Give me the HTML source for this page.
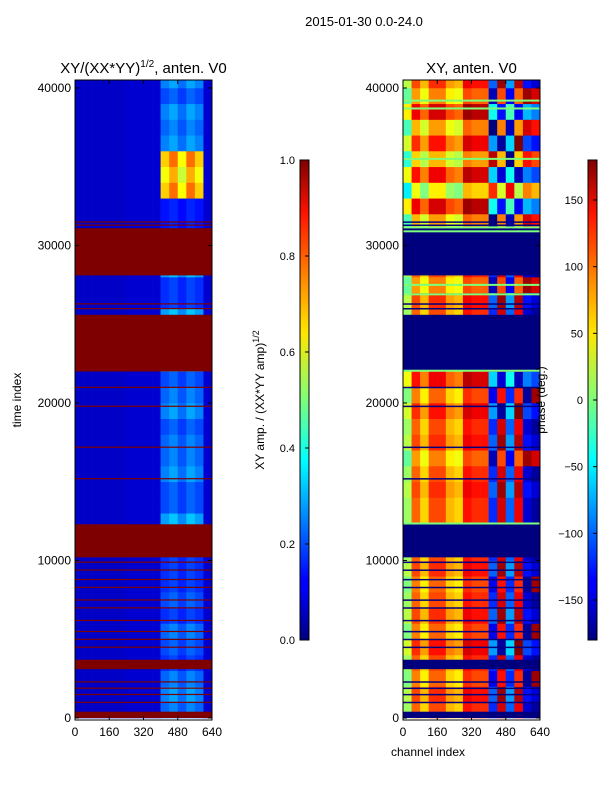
<!DOCTYPE html>
<html><head><meta charset="utf-8">
<style>
body{margin:0;background:#fff;}
svg text{font-family:"Liberation Sans","DejaVu Sans",sans-serif;fill:#000;}
</style></head>
<body>
<svg id="fig" width="600" height="800" xmlns="http://www.w3.org/2000/svg">
<rect width="600" height="800" fill="#fff"/>
<defs>
<linearGradient id="jet" x1="0" y1="1" x2="0" y2="0">
<stop offset="0" stop-color="#00007f"/><stop offset="0.11" stop-color="#0000ff"/><stop offset="0.125" stop-color="#0000ff"/>
<stop offset="0.34" stop-color="#00dcff"/><stop offset="0.375" stop-color="#00ffff"/><stop offset="0.5" stop-color="#7dff7a"/>
<stop offset="0.64" stop-color="#ffe500"/><stop offset="0.66" stop-color="#ffd700"/><stop offset="0.89" stop-color="#ff1200"/><stop offset="1" stop-color="#7f0000"/>
</linearGradient>
</defs>
<text x="364" y="26" font-size="13" text-anchor="middle">2015-01-30 0.0-24.0</text>
<g id="left"></g>
<g id="right"></g>
<g id="axes"></g>
<text x="21" y="400" font-size="12" text-anchor="middle" transform="rotate(-90 21 400)">time index</text>
<text x="428" y="756" font-size="12" text-anchor="middle">channel index</text>
<text x="264" y="400" font-size="12" text-anchor="middle" transform="rotate(-90 264 400)">XY amp. / (XX*YY amp)<tspan dy="-5" font-size="9">1/2</tspan></text>
<text x="545" y="400" font-size="12" text-anchor="middle" transform="rotate(-90 545 400)">phase (deg.)</text>
</svg>
<script>
const NS="http://www.w3.org/2000/svg";
// ---- data ----
const timeBinSize=1000;
const chanBinSize=40;
const chanAmp=[0.07,0.07,0.07,0.07,0.07,0.07,0.08,0.08,0.08,0.08,0.28,0.32,0.26,0.32,0.28,0.08];
const rowAmp=[0.8,0.9,0.8,0.6,0.7,0.8,0.6,0.7,0.6,0.6,0.6,1,1,0.7,0.7,0.9,0.8,0.8,0.7,0.9,0.8,0.7,1,1,1,1,0.6,0.6,1,1,1,0.5,0.5,2.4,2.2,2.4,0.9,0.8,0.9,0.7,0.9];
const phaseChan=[10,100,60,110,110,70,60,130,120,120,-120,150,-100,140,-150,-170];
const rowPhase=[0,10,-10,0,20,-10,10,0,-10,10,0,0,0,0,10,0,-20,10,0,20,-10,30,0,0,0,0,10,-20,0,0,0,-30,40,-60,30,-40,20,-30,40,-20,10];
const flagBands=[[0,400],[3100,3700],[10200,12300],[22000,25600],[28100,31100]];
const thinFlags=[1000,1500,1900,2300,4500,5000,5500,6200,7000,7500,8300,8800,9400,9900,15200,17200,19800,21000,26000,26300,31300,31500];
const greenLines=[12350,22050,31150,30900,38700,39200,35500,26900,27500];
const xTicks=[0,160,320,480,640];
const yTicks=[0,10000,20000,30000,40000];
const ampTicks=[0.0,0.2,0.4,0.6,0.8,1.0];
const phaseTicks=[-150,-100,-50,0,50,100,150];
// ---- scales ----
const T0=718, TS=0.01575, TMAX=(718-80)/TS;
function yT(t){return T0-t*TS;}
function xC(c,x0){return x0+c*137/640;}
function jet(v){v=Math.max(0,Math.min(1,v));
 const r=Math.max(0,Math.min(1,1.5-Math.abs(4*v-3))),g=Math.max(0,Math.min(1,1.5-Math.abs(4*v-2))),b=Math.max(0,Math.min(1,1.5-Math.abs(4*v-1)));
 return `rgb(${Math.round(r*255)},${Math.round(g*255)},${Math.round(b*255)})`;}
function wrap(p){while(p>180)p-=360;while(p<-180)p+=360;return p;}
function el(tag,attrs,parent){const e=document.createElementNS(NS,tag);for(const k in attrs)e.setAttribute(k,attrs[k]);parent.appendChild(e);return e;}
const L=document.getElementById('left'),R=document.getElementById('right'),A=document.getElementById('axes');
for(let r=0;r<rowAmp.length;r++){
 const t0=r*timeBinSize,t1=Math.min((r+1)*timeBinSize,TMAX);
 if(t0>=TMAX)break;
 for(let c=0;c<chanAmp.length;c++){
  const x1=xC(c*chanBinSize,75),x2=xC((c+1)*chanBinSize,75);
  const a=el('rect',{x:x1,y:yT(t1),width:x2-x1+0.3,height:yT(t0)-yT(t1)+0.3,fill:jet(c>=10&&c<15?chanAmp[c]*rowAmp[r]:chanAmp[c])},L);
  
  
  const px1=xC(c*chanBinSize,403),px2=xC((c+1)*chanBinSize,403);
  const ph=wrap(phaseChan[c]+rowPhase[r]*(c>=10?2:1));
  const p=el('rect',{x:px1,y:yT(t1),width:px2-px1+0.3,height:yT(t0)-yT(t1)+0.3,fill:jet((ph+180)/360)},R);
  
  
 }
}
for(const [a,b] of flagBands){
 const f1=el('rect',{x:75,y:yT(b),width:137,height:yT(a)-yT(b),fill:'#7f0000'},L);
 
 
 const f2=el('rect',{x:403,y:yT(b),width:137,height:yT(a)-yT(b),fill:'#00007f'},R);
 
 
}
for(const t of thinFlags){
 const l1=el('rect',{x:75,y:yT(t)-0.5,width:137,height:1.2,fill:'#7f0000'},L);
 
 
 const l2=el('rect',{x:403,y:yT(t)-0.5,width:137,height:1.5,fill:'#00007f'},R);
 
 
}
for(const t of greenLines){
 const g=el('rect',{x:403,y:yT(t)-1,width:137,height:2,fill:'#7dff7a'},R);
 
 
}
function frame(x0,name,title){
 const f=el('rect',{x:x0,y:80,width:137,height:640,fill:'none',stroke:'#000','stroke-width':1},A);
 
 
 const tt=el('text',{x:x0+68.5,y:73,'font-size':15,'text-anchor':'middle'},A);tt.innerHTML=title;
 
 
 for(const v of xTicks){const x=xC(v,x0);
  el('line',{x1:x,x2:x,y1:720,y2:716,stroke:'#000'},A);el('line',{x1:x,x2:x,y1:80,y2:84,stroke:'#000'},A);
  const t=el('text',{x:x,y:736,'font-size':12,'text-anchor':'middle'},A);t.textContent=v;
  
  }
 for(const v of yTicks){const y=yT(v);
  el('line',{x1:x0,x2:x0+4,y1:y,y2:y,stroke:'#000'},A);el('line',{x1:x0+137,x2:x0+133,y1:y,y2:y,stroke:'#000'},A);
  const t=el('text',{x:x0-4,y:y+4,'font-size':12,'text-anchor':'end'},A);t.textContent=v;
  
  }
}
frame(75,'amp-frame','XY/(XX*YY)<tspan dy="-6" font-size="10">1/2</tspan><tspan dy="6">, anten. V0</tspan>');
frame(403,'phase-frame','XY, anten. V0');
function cbar(x,ticks,lo,hi,name,fmt){
 const r=el('rect',{x:x,y:160,width:9,height:480,fill:'url(#jet)',stroke:'#000','stroke-width':1},A);
 
 
 for(const v of ticks){const y=640-(v-lo)/(hi-lo)*480;
  el('line',{x1:x+5,x2:x+9,y1:y,y2:y,stroke:'#000'},A);
  const t=el('text',{x:x-5,y:y+4,'font-size':11,'text-anchor':'end'},A);t.textContent=fmt(v);
  
  }
}
cbar(300,ampTicks,0,1,'amp-colorbar',v=>v.toFixed(1));
cbar(588,phaseTicks,-180,180,'phase-colorbar',v=>v<0?'\u2212'+(-v):String(v));
</script>
</body></html>
